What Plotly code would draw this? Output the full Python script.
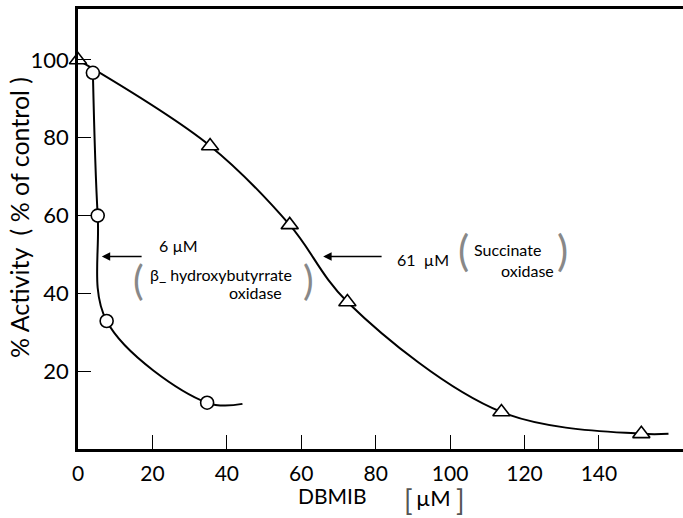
import plotly.graph_objects as go

# Succinate oxidase (triangles)
succ_x = [0, 35.5, 56.9, 72.4, 113.8, 151.4]
succ_y = [100, 77.9, 57.6, 37.8, 9.5, 3.9]
succ_line_x = [0, 35.5, 56.9, 72.4, 113.8, 151.4, 158.7]
succ_line_y = [100, 77.9, 57.6, 37.8, 9.5, 3.9, 3.9]

# beta-hydroxybutyrate oxidase (circles)
hbd_x = [4.0, 5.3, 7.7, 34.7]
hbd_y = [96.7, 60, 32.9, 11.9]
hbd_line_x = [4.0, 5.3, 7.7, 34.7, 44.2]
hbd_line_y = [96.7, 60, 32.9, 11.9, 11.6]

x_ticks = [0, 20, 40, 60, 80, 100, 120, 140]
y_ticks = [20, 40, 60, 80, 100]

FONT = "Lato"
fig = go.Figure()

fig.add_trace(go.Scatter(x=succ_line_x, y=succ_line_y, mode="lines",
                         line=dict(color="black", width=2, shape="spline", smoothing=1.0),
                         showlegend=False, hoverinfo="skip", cliponaxis=False))
fig.add_trace(go.Scatter(x=hbd_line_x, y=hbd_line_y, mode="lines",
                         line=dict(color="black", width=2, shape="spline", smoothing=1.0),
                         showlegend=False, hoverinfo="skip", cliponaxis=False))
fig.add_trace(go.Scatter(x=succ_x, y=succ_y, mode="markers",
                         marker=dict(symbol="triangle-up", size=15, color="white",
                                     line=dict(color="black", width=1.6)),
                         showlegend=False, cliponaxis=False))
fig.add_trace(go.Scatter(x=hbd_x, y=hbd_y, mode="markers",
                         marker=dict(symbol="circle", size=13, color="white",
                                     line=dict(color="black", width=1.6)),
                         showlegend=False, cliponaxis=False))

ann = []
def txt(x, y, s, size=17, xanchor="left", color="black", **kw):
    ann.append(dict(x=x, y=y, xref="x", yref="y", text=s, showarrow=False,
                    xanchor=xanchor, yanchor="middle",
                    font=dict(family=FONT, size=size, color=color), **kw))

# arrows
ann.append(dict(x=6.4, y=49.5, ax=17.5, ay=49.5, xref="x", yref="y", axref="x", ayref="y",
                showarrow=True, arrowhead=2, arrowsize=1.2, arrowwidth=1.4, arrowcolor="black", text=""))
ann.append(dict(x=65.9, y=49.5, ax=82.0, ay=49.5, xref="x", yref="y", axref="x", ayref="y",
                showarrow=True, arrowhead=2, arrowsize=1.2, arrowwidth=1.4, arrowcolor="black", text=""))

PAREN = "#888"
txt(21.2, 52.2, "6 µM", size=16)
txt(16.3, 43.4, "(", size=40, color=PAREN, xanchor="center")
txt(18.9, 44.9, "β_ hydroxybutyrrate", size=16)
txt(55.4, 40.3, "oxidase", size=16, xanchor="right")
txt(61.9, 43.4, ")", size=40, color=PAREN, xanchor="center")

txt(85.2, 48.8, "61  µM", size=16)
txt(103.6, 51.2, "(", size=42, color=PAREN, xanchor="center")
txt(106.0, 51.2, "Succinate", size=16)
txt(128.4, 45.8, "oxidase", size=16, xanchor="right")
txt(130.3, 51.2, ")", size=42, color=PAREN, xanchor="center")

# axis titles
ann.append(dict(x=0, y=59.4, xref="paper", yref="y", xshift=-59, text="% Activity  ( % of control )",
                textangle=-90, showarrow=False, xanchor="center", yanchor="middle",
                font=dict(family=FONT, size=25, color="black")))
ann.append(dict(x=68.3, y=0, xref="x", yref="paper", yshift=-46, text="DBMIB", showarrow=False,
                xanchor="center", yanchor="middle", font=dict(family=FONT, size=21, color="black")))
ann.append(dict(x=88.7, y=0, xref="x", yref="paper", yshift=-51, text="[", showarrow=False,
                xanchor="center", yanchor="middle", font=dict(family=FONT, size=28, color="#555")))
ann.append(dict(x=88.7, y=0, xref="x", yref="paper", yshift=-48, xshift=25, text="µM", showarrow=False,
                xanchor="center", yanchor="middle", font=dict(family=FONT, size=22, color="black")))
ann.append(dict(x=88.7, y=0, xref="x", yref="paper", yshift=-51, xshift=52, text="]", showarrow=False,
                xanchor="center", yanchor="middle", font=dict(family=FONT, size=28, color="#555")))

fig.update_layout(
    width=683, height=518,
    margin=dict(l=78, r=0, t=9, b=69),
    paper_bgcolor="white", plot_bgcolor="white",
    annotations=ann,
    font=dict(family=FONT, color="black"),
)
fig.update_xaxes(range=[0, 162.6], tickvals=x_ticks, ticktext=[str(v) for v in x_ticks],
                 ticks="inside", ticklen=14, tickwidth=1.3, tickcolor="black",
                 showline=True, linecolor="black", linewidth=2.5, mirror=True,
                 showgrid=False, zeroline=False, tickfont=dict(family=FONT, size=21),
                 ticklabelstandoff=4)
fig.update_yaxes(range=[0, 113.1], tickvals=y_ticks, ticktext=[str(v) for v in y_ticks],
                 ticks="inside", ticklen=13, tickwidth=1.3, tickcolor="black",
                 showline=True, linecolor="black", linewidth=2.5,
                 showgrid=False, zeroline=False, tickfont=dict(family=FONT, size=22),
                 ticklabelstandoff=2)

fig.write_html("out.html")
